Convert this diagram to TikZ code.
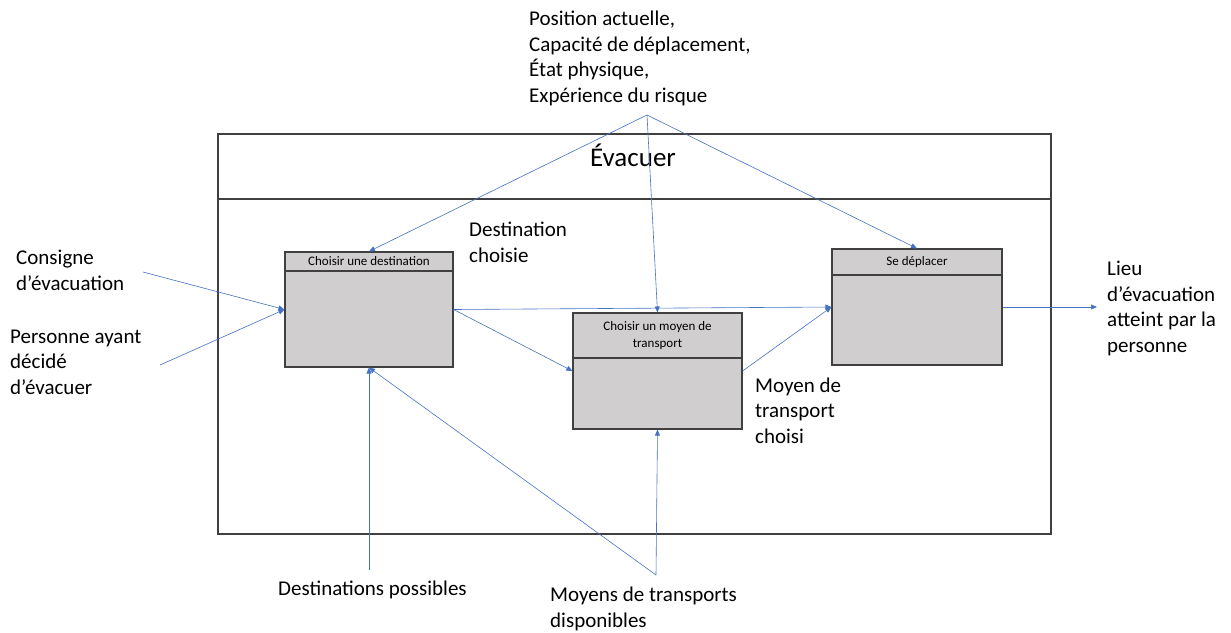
\documentclass[tikz,border=0pt]{standalone}
\usepackage{fontspec}
\setmainfont{Carlito}
\usetikzlibrary{positioning}
\usetikzlibrary{calc}
\usetikzlibrary{arrows.meta}
\definecolor{fleche}{RGB}{68,114,196}
\definecolor{boite}{RGB}{208,206,206}
\definecolor{trait}{RGB}{64,64,64}
\tikzset{>={Triangle[length=6pt,width=5pt]}}
\tikzset{act/.style={draw=trait, line width=1.1pt, fill=boite, inner sep=0pt}}
\tikzset{fl/.style={->, draw=fleche, line width=0.6pt}}
\tikzset{lab/.style={anchor=base west, align=left, inner sep=0pt, font=\fontsize{21}{25.5}\selectfont}}
\tikzset{tete/.style={inner sep=0pt, align=center, font=\fontsize{13}{17}\selectfont}}

\begin{document}
\begin{tikzpicture}[x=1pt,y=-1pt]
\useasboundingbox (0,0) rectangle (1231,632);
% cadre
\node[draw=trait, line width=1.1pt, minimum width=833pt, minimum height=400pt, inner sep=0pt] (evac) at (634.5,334) {};
\draw[draw=trait, line width=1.1pt] (evac.west |- 0,199) -- (evac.east |- 0,199);
\node[anchor=base, inner sep=0pt, font=\fontsize{27}{32}\selectfont] (titre) at (633,166) {Évacuer};

% activites
\node[act, minimum width=168pt, minimum height=115pt] (dest) at (369,309.5) {};
\draw[draw=trait, line width=1.1pt] (dest.west |- 0,271) -- (dest.east |- 0,271);
\node[tete] (tdest) at (369,261.5) {Choisir une destination};

\node[act, minimum width=169pt, minimum height=116pt] (moyen) at (657.5,371) {};
\draw[draw=trait, line width=1.1pt] (moyen.west |- 0,358) -- (moyen.east |- 0,358);
\node[tete] (tmoyen) at (657.5,335.5) {Choisir un moyen de\\transport};

\node[act, minimum width=170pt, minimum height=116pt] (depl) at (917,307) {};
\draw[draw=trait, line width=1.1pt] (depl.west |- 0,275) -- (depl.east |- 0,275);
\node[tete] (tdepl) at (917,262) {Se déplacer};

% textes (base = derniere ligne)
\node[lab] (ctrl) at (529,102) {Position actuelle,\\Capacité de déplacement,\\État physique,\\Expérience du risque};
\node[lab] (cons) at (16,290) {Consigne\\d’évacuation};
\node[lab] (pers) at (10,394) {Personne ayant\\décidé\\d’évacuer};
\node[lab] (destch) at (469,262) {Destination\\choisie};
\node[lab] (moych) at (755,443) {Moyen de\\transport\\choisi};
\node[lab] (lieu) at (1107,352) {Lieu\\d’évacuation\\atteint par la\\personne};
\node[lab] (destpos) at (278,595) {Destinations possibles};
\node[lab] (moydisp) at (550,627) {Moyens de transports\\disponibles};

% extremites libres
\coordinate (apex) at (647,115);
\coordinate (cin) at (143,272);
\coordinate (pin) at (160,365);
\coordinate (lout) at (1097,307);
\coordinate (dbas) at (369,570);
\coordinate (mbas) at (656,575);

\draw[fl] (apex) -- (dest.north);
\draw[fl] (apex) -- (moyen.north);
\draw[fl] (apex) -- (depl.north);
\draw[fl] (cin) -- (dest.west);
\draw[fl] (pin) -- (dest.west);
\draw[fl] (dest.east) -- (depl.west);
\draw[fl] (dest.east) -- (moyen.west);
\draw[fl] (moyen.east) -- (depl.west);
\draw[fl] (depl.east) -- (lout);
\draw[fl] (dbas) -- (dest.south);
\draw[fl] (mbas) -- (moyen.south);
\draw[fl] (mbas) -- (dest.south);
\end{tikzpicture}
\end{document}
